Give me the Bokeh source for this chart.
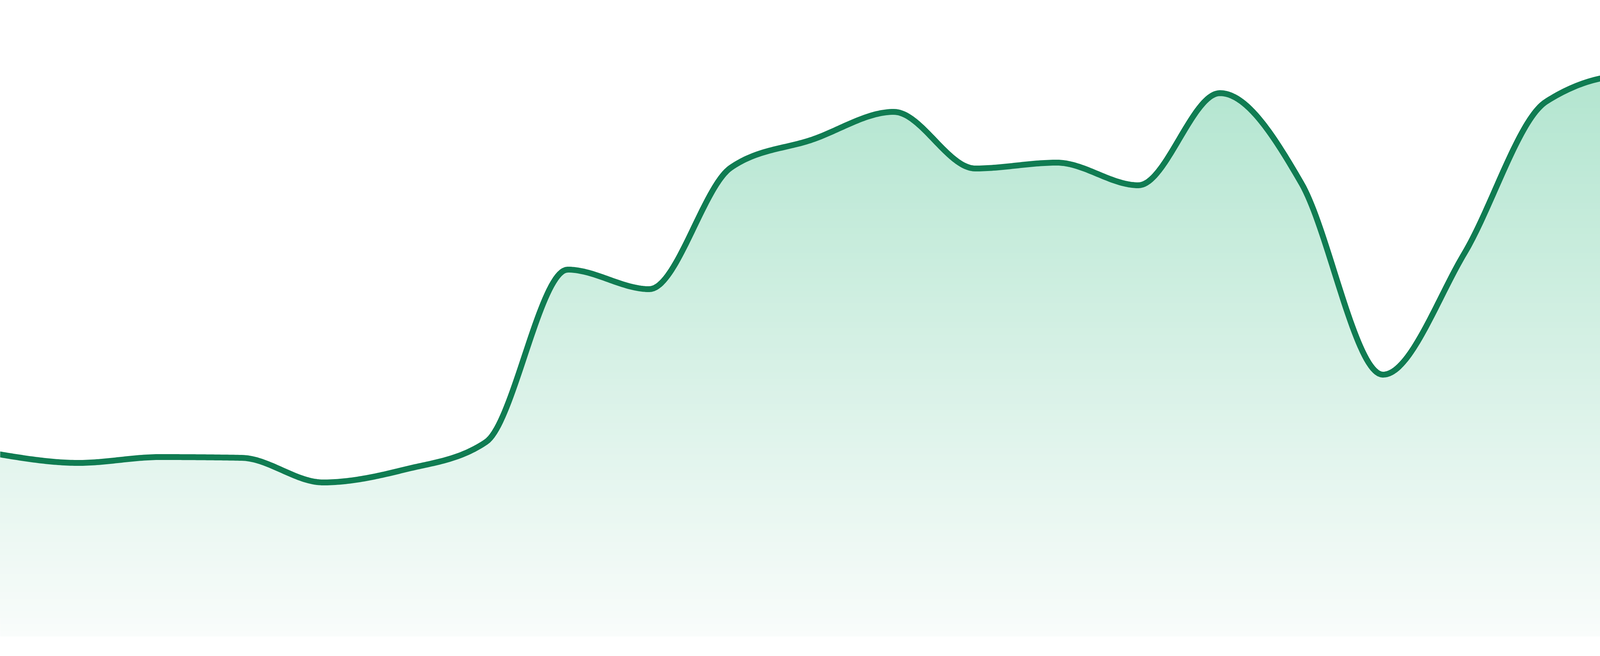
import numpy as np
from bokeh.plotting import figure
from bokeh.models import Range1d
from bokeh.embed import file_html
from bokeh.resources import INLINE

# ---- data (24 evenly spaced observations) ----
x_index = list(range(24))
values = [46.8, 44.5, 46.0, 45.8, 39.5, 42.8, 49.9, 94.0, 89.0, 120.1, 127.3, 134.4,
          119.9, 121.4, 115.6, 139.2, 116.1, 67.1, 98.2, 137.0, 143.7, 119.3, 139.0, 142.9]

LINE_COLOR = "#107c52"
GRAD_TOP = (178, 229, 207)
GRAD_BOTTOM = (249, 252, 251)
GRAD_TOP_VALUE = 145.0


def monotone_curve(x, y, samples=40):
    """d3 curveMonotoneX rendering path through the data points."""
    x = np.asarray(x, float)
    y = np.asarray(y, float)
    n = len(x)
    t = np.zeros(n)
    for i in range(1, n - 1):
        h0 = x[i] - x[i - 1]
        h1 = x[i + 1] - x[i]
        s0 = (y[i] - y[i - 1]) / h0
        s1 = (y[i + 1] - y[i]) / h1
        p = (s0 * h1 + s1 * h0) / (h0 + h1)
        t[i] = (np.sign(s0) + np.sign(s1)) * min(abs(s0), abs(s1), 0.5 * abs(p))
    t[0] = (3 * (y[1] - y[0]) / (x[1] - x[0]) - t[1]) / 2
    t[-1] = (3 * (y[-1] - y[-2]) / (x[-1] - x[-2]) - t[-2]) / 2
    xs, ys = [], []
    u = np.linspace(0, 1, samples + 1)
    for i in range(n - 1):
        dx = (x[i + 1] - x[i]) / 3
        P0 = np.array([x[i], y[i]])
        P1 = np.array([x[i] + dx, y[i] + dx * t[i]])
        P2 = np.array([x[i + 1] - dx, y[i + 1] - dx * t[i + 1]])
        P3 = np.array([x[i + 1], y[i + 1]])
        uu = u if i == 0 else u[1:]
        b = ((1 - uu) ** 3)[:, None] * P0 + (3 * (1 - uu) ** 2 * uu)[:, None] * P1 \
            + (3 * (1 - uu) * uu ** 2)[:, None] * P2 + (uu ** 3)[:, None] * P3
        xs.extend(b[:, 0])
        ys.extend(b[:, 1])
    return np.array(xs), np.array(ys)


cx, cy = monotone_curve(x_index, values)

W, H = 4784, 1630
n_int = len(x_index) - 1
x_start = 8 * n_int / 4800
x_end = 4792 * n_int / 4800

p = figure(width=W, height=H, output_backend="svg", toolbar_location=None,
           x_range=Range1d(x_start, x_end), y_range=Range1d(0, 163),
           min_border=0, min_border_left=0, min_border_right=0,
           min_border_top=0, min_border_bottom=0)
p.xaxis.visible = False
p.yaxis.visible = False
p.grid.visible = False
p.outline_line_color = None
p.background_fill_color = "white"
p.border_fill_color = "white"

# vertical gradient fill built from stacked bands (bottom to top)
n_bands = 90
for k in range(n_bands):
    lo = GRAD_TOP_VALUE * k / n_bands
    mid = GRAD_TOP_VALUE * (k + 0.5) / n_bands
    f = mid / GRAD_TOP_VALUE
    col = tuple(int(round(GRAD_BOTTOM[j] + (GRAD_TOP[j] - GRAD_BOTTOM[j]) * f)) for j in range(3))
    hexcol = "#%02x%02x%02x" % col
    p.varea(x=cx, y1=np.minimum(cy, lo), y2=cy, fill_color=hexcol, fill_alpha=1.0)

p.line(cx, cy, line_color=LINE_COLOR, line_width=15, line_join="round", line_cap="round")

open("out.html", "w").write(file_html(p, INLINE))
